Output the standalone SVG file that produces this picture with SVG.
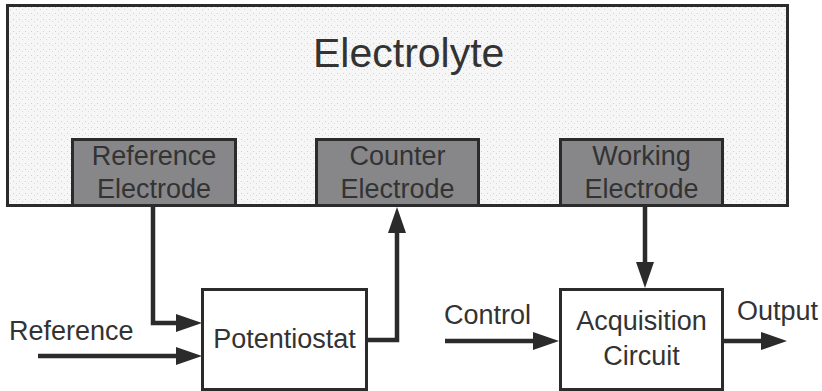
<svg xmlns="http://www.w3.org/2000/svg" width="822" height="391" viewBox="0 0 822 391">
<defs>
<pattern id="dots" width="6" height="6" patternUnits="userSpaceOnUse">
<rect width="6" height="6" fill="#f5f6f5"/>
<rect x="1" y="1" width="1" height="1" fill="#cfd0cf"/>
<rect x="4" y="3" width="1" height="1" fill="#d8d9d8"/>
</pattern>
<marker id="arr" markerUnits="userSpaceOnUse" markerWidth="28" markerHeight="20" refX="6" refY="9" orient="auto">
<path d="M0,0 L26,9 L0,18 z" fill="#2b2b2b"/>
</marker>
<style>
.box{stroke:#2b2b2b;stroke-width:3}
.el{fill:#87878a}
.blk{fill:#ffffff}
.t{font-family:"Liberation Sans",Arial,sans-serif;fill:#333;text-anchor:middle}
.tl{font-family:"Liberation Sans",Arial,sans-serif;fill:#333}
.c{fill:none;stroke:#2b2b2b;stroke-width:4.5}
</style>
</defs>
<rect width="822" height="391" fill="#ffffff"/>
<g id="electrolyte">
<rect class="box" x="7.5" y="5.5" width="780" height="200" fill="url(#dots)"/>
<text class="tl" x="313" y="67" font-size="41" fill="#444">Electrolyte</text>
</g>
<g id="reference-electrode">
<rect class="box el" x="72.5" y="139.5" width="163" height="66"/>
<text class="t" x="154" y="165" font-size="27">Reference</text>
<text class="t" x="154" y="198" font-size="27">Electrode</text>
</g>
<g id="counter-electrode">
<rect class="box el" x="316.5" y="139.5" width="162" height="66"/>
<text class="t" x="397.5" y="165" font-size="27">Counter</text>
<text class="t" x="397.5" y="198" font-size="27">Electrode</text>
</g>
<g id="working-electrode">
<rect class="box el" x="560.5" y="139.5" width="162" height="66"/>
<text class="t" x="641.5" y="165" font-size="27">Working</text>
<text class="t" x="641.5" y="198" font-size="27">Electrode</text>
</g>
<g id="potentiostat">
<rect class="box blk" x="202.5" y="289.5" width="164" height="100"/>
<text class="t" x="284.5" y="348" font-size="27">Potentiostat</text>
</g>
<g id="acquisition-circuit">
<rect class="box blk" x="560.5" y="289.5" width="162" height="100"/>
<text class="t" x="641.5" y="330" font-size="27">Acquisition</text>
<text class="t" x="641.5" y="365" font-size="27">Circuit</text>
</g>
<g id="labels">
<text class="tl" x="9" y="340" font-size="27">Reference</text>
<text class="tl" x="444" y="324" font-size="27">Control</text>
<text class="tl" x="737" y="320" font-size="27">Output</text>
</g>
<g id="connectors">
<path class="c" d="M153,207 V323 H182" marker-end="url(#arr)"/>
<path class="c" d="M38,356 H182" marker-end="url(#arr)"/>
<path class="c" d="M367,340 H397 V227" marker-end="url(#arr)"/>
<path class="c" d="M645,207 V268" marker-end="url(#arr)"/>
<path class="c" d="M445,341 H539" marker-end="url(#arr)"/>
<path class="c" d="M724,341 H767" marker-end="url(#arr)"/>
</g>
</svg>
